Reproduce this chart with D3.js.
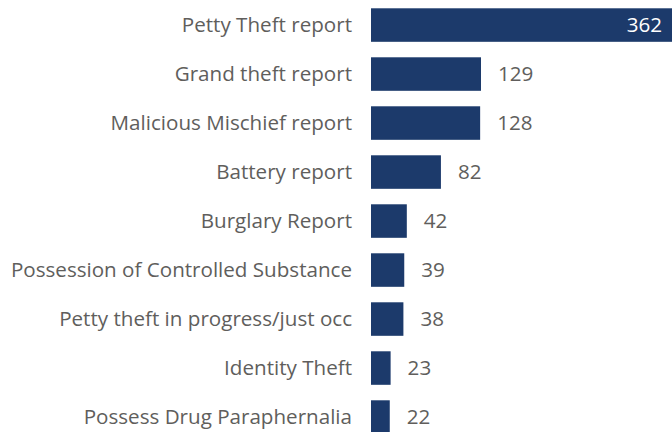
<!DOCTYPE html>
<html>
<head>
<meta charset="utf-8">
<script src="https://cdn.jsdelivr.net/npm/d3@7"></script>
<style>
  html, body { margin: 0; padding: 0; background: #ffffff; overflow: hidden; }
  svg { display: block; }
</style>
</head>
<body>
<svg id="chart" width="672" height="432"></svg>
<script>
// Incident categories and their report counts
const categories = [
  "Petty Theft report",
  "Grand theft report",
  "Malicious Mischief report",
  "Battery report",
  "Burglary Report",
  "Possession of Controlled Substance",
  "Petty theft in progress/just occ",
  "Identity Theft",
  "Possess Drug Paraphernalia"
];
const counts = [362, 129, 128, 82, 42, 39, 38, 23, 22];

const W = 672, H = 432;
const barColor = "#1c3a6b";
const textColor = "#605e5c";
const fontFamily = "'Segoe UI', 'Open Sans', 'Noto Sans', sans-serif";
const fontSize = 20.6;

const svg = d3.select("#chart");

const x = d3.scaleLinear()
  .domain([0, 129])
  .range([371, 481]);

const y = d3.scaleBand()
  .domain(categories)
  .range([0.55, 0.55 + 49 * categories.length])
  .paddingInner(0.316)
  .paddingOuter(0.158);

const data = categories.map((c, i) => ({ cat: c, value: counts[i] }));

// Bars
svg.append("g")
  .selectAll("rect")
  .data(data)
  .join("rect")
  .attr("x", x(0))
  .attr("y", d => y(d.cat))
  .attr("width", d => x(d.value) - x(0))
  .attr("height", y.bandwidth())
  .attr("fill", barColor);

// Category axis labels
svg.append("g")
  .selectAll("text")
  .data(data)
  .join("text")
  .attr("x", 352)
  .attr("y", d => y(d.cat) + y.bandwidth() / 2)
  .attr("dy", "0.35em")
  .attr("text-anchor", "end")
  .attr("font-family", fontFamily)
  .attr("font-size", fontSize)
  .attr("fill", textColor)
  .text(d => d.cat);

// Data labels: inside the bar when it runs off the plot, otherwise after it
svg.append("g")
  .selectAll("text")
  .data(data)
  .join("text")
  .each(function(d) {
    const end = x(d.value);
    const inside = end > W;
    d3.select(this)
      .attr("x", inside ? W - 10 : end + 17)
      .attr("text-anchor", inside ? "end" : "start")
      .attr("fill", inside ? "#ffffff" : textColor);
  })
  .attr("y", d => y(d.cat) + y.bandwidth() / 2)
  .attr("dy", "0.35em")
  .attr("font-family", fontFamily)
  .attr("font-size", fontSize)
  .text(d => d.value);
</script>
</body>
</html>
